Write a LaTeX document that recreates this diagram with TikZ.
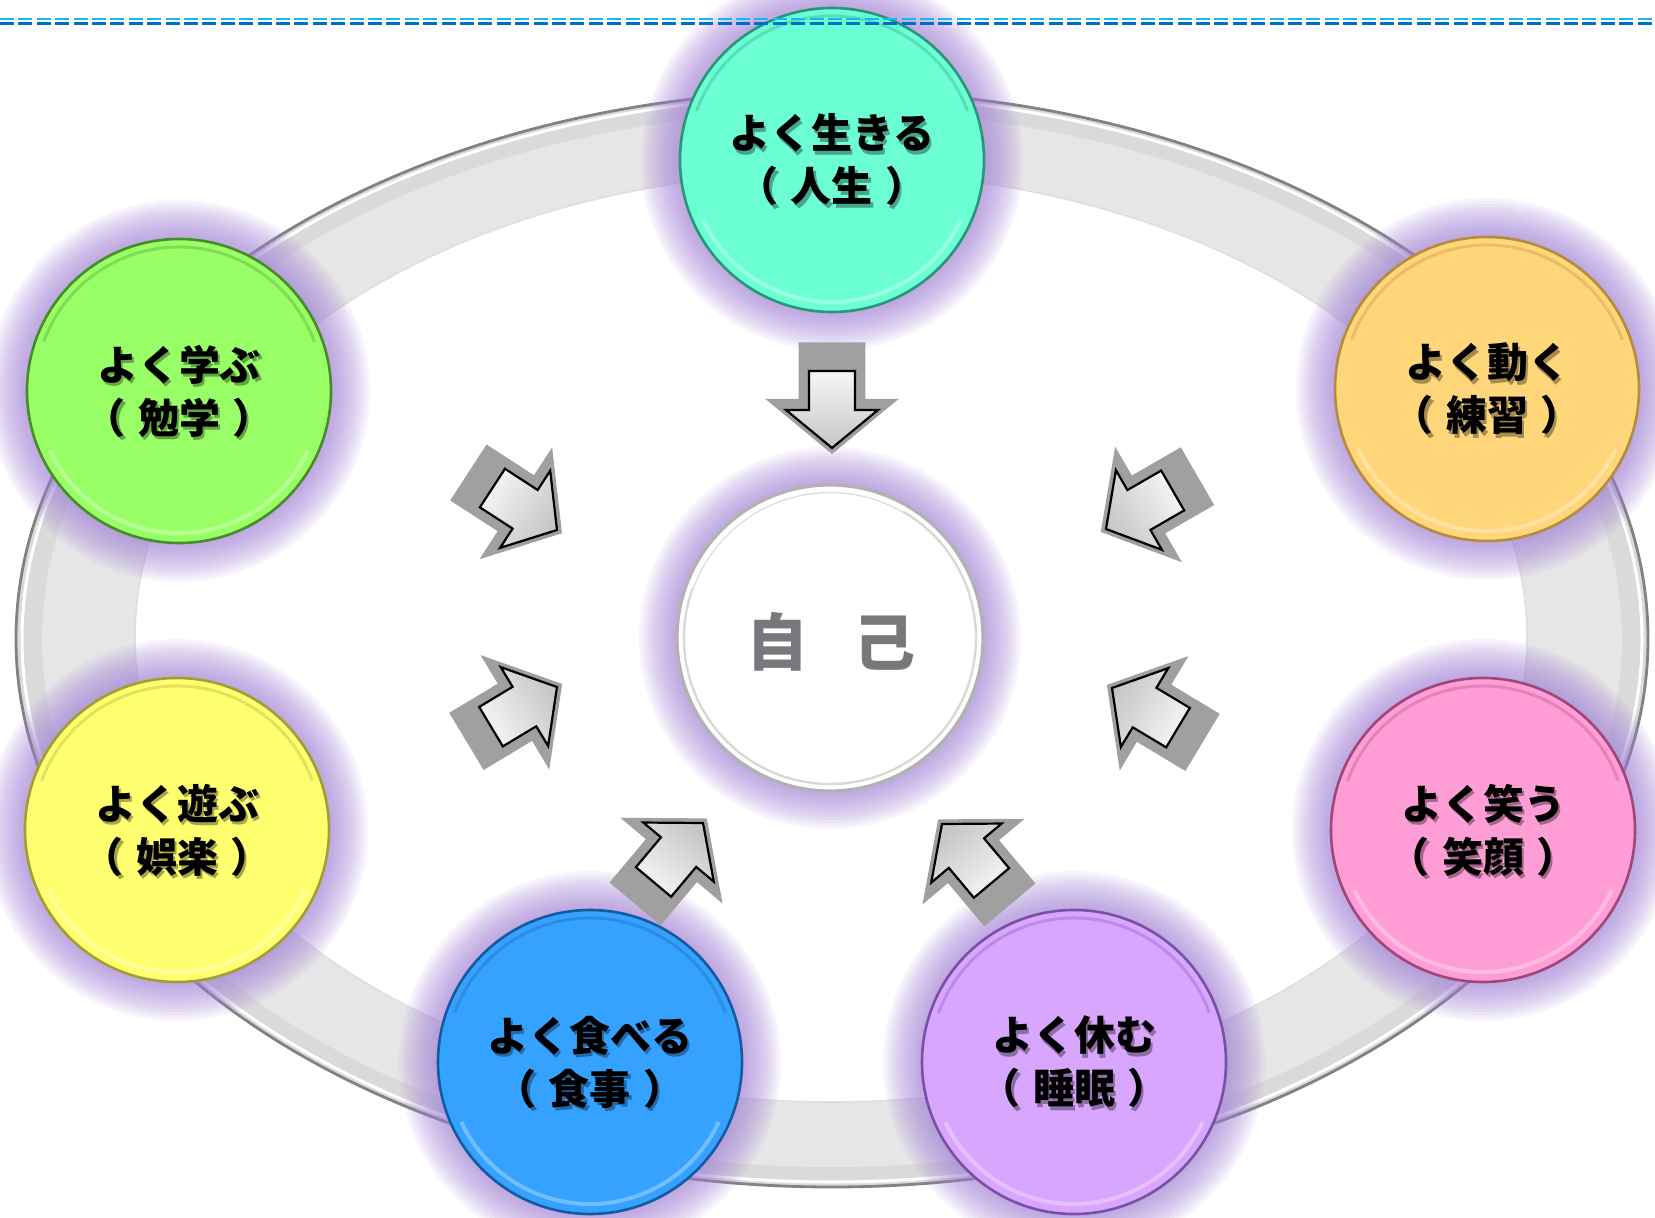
\documentclass[tikz,border=0pt]{standalone}
\usepackage{fontspec}
\newfontfamily\jpfont[Kerning=Off]{Noto Sans CJK JP}
\usetikzlibrary{calc}
\definecolor{glowc}{RGB}{160,125,215}
\definecolor{ringband}{RGB}{218,218,218}
\definecolor{ringlight}{RGB}{230,230,230}
\definecolor{ringedge}{RGB}{130,130,130}
\definecolor{arrshadow}{RGB}{160,160,160}
\definecolor{cteal}{RGB}{108,255,212}\definecolor{bteal}{RGB}{40,150,120}
\definecolor{cgreen}{RGB}{153,255,102}\definecolor{bgreen}{RGB}{70,140,40}
\definecolor{corange}{RGB}{255,214,122}\definecolor{borange}{RGB}{180,140,60}
\definecolor{cyellow}{RGB}{255,255,112}\definecolor{byellow}{RGB}{160,160,50}
\definecolor{cpink}{RGB}{255,158,214}\definecolor{bpink}{RGB}{160,70,120}
\definecolor{cblue}{RGB}{54,162,255}\definecolor{bblue}{RGB}{20,90,160}
\definecolor{cpurple}{RGB}{217,166,255}\definecolor{bpurple}{RGB}{120,80,165}
\definecolor{dashcyan}{RGB}{20,185,240}
\definecolor{dashblue}{RGB}{0,110,200}
\definecolor{selfgray}{RGB}{120,120,124}
\tikzset{
  bubblebase/.style={circle, minimum size=152pt, inner sep=0pt, line width=1.3pt},
  bubbletext/.style={align=center, inner sep=0pt, font=\jpfont\bfseries\fontsize{20.5pt}{26.5pt}\selectfont, text=black},
  textshade/.style={bubbletext, text opacity=0.35},
  arrowbody/.style={draw=black, line width=1.1pt, line join=miter},
  arrowback/.style={fill=arrshadow},
  glowring/.style={glowc, opacity=0.075},
}
\newcommand\mkglow[3]{% x y radius
  \foreach \k in {1,...,13}{\fill[glowring] (#1,#2) circle ({#3+3*\k});}
}
\newcommand\mkbubble[7]{% name x y fill border line1 line2-inner
  \node[bubblebase, fill=#4, draw=#5] (#1) at (#2,#3) {};
  \draw[white, opacity=0.3, line width=2pt] (#2,#3) ++(25:142) arc[start angle=25, end angle=155, radius=142];
  \draw[#5, opacity=0.3, line width=1.5pt] (#2,#3) ++(200:144) arc[start angle=200, end angle=340, radius=144];
  \node[textshade] (#1s) at ([shift={(1.2pt,-1.6pt)}]#1.center) {#6\\（\hspace{0.3em}#7\hspace{0.3em}）};
  \node[bubbletext] (#1t) at (#1.center) {#6\\（\hspace{0.3em}#7\hspace{0.3em}）};
}
\newcommand\mkarrow[4]{% name x y angle
  \begin{scope}[shift={(#2,#3)}, rotate=#4]
    \fill[arrowback, shift={(6,0)}, scale=1.45] (0,0) -- (-38,46) -- (-38,23) -- (-77,23) -- (-77,-23) -- (-38,-23) -- (-38,-46) -- cycle;
    \path[arrowbody, top color=white!93!gray, bottom color=gray!45!white, shading angle={#4+90}] (0,0) coordinate (#1) -- (-38,46) -- (-38,23) -- (-77,23) -- (-77,-23) -- (-38,-23) -- (-38,-46) -- cycle;
  \end{scope}
}
\begin{document}
\begin{tikzpicture}[x=0.5pt,y=-0.5pt]
\useasboundingbox (0,0) rectangle (1655,1218);
\fill[white] (0,0) rectangle (1655,1218);
% ring
\fill[ringband] (832,639) ellipse [x radius=816, y radius=548];
\fill[ringlight] (832,639) ellipse [x radius=790, y radius=528];
\fill[white] (831,637) ellipse [x radius=696, y radius=465];
\draw[ringedge, line width=1.4pt] (832,639) ellipse [x radius=816, y radius=548];
\draw[white, line width=1.5pt] (832,639) ellipse [x radius=810, y radius=543];
\draw[gray!25, line width=0.8pt] (831,637) ellipse [x radius=696, y radius=465];
% glows
\mkglow{832}{160}{152}
\mkglow{179}{391}{152}
\mkglow{1487}{389}{152}
\mkglow{177}{830}{152}
\mkglow{1483}{830}{152}
\mkglow{590}{1062}{152}
\mkglow{1074}{1062}{152}
\mkglow{830}{638}{152}
% bubbles
\mkbubble{life}{832}{160}{cteal}{bteal}{よく生きる}{人生}
\mkbubble{study}{179}{391}{cgreen}{bgreen}{よく学ぶ}{勉学}
\mkbubble{move}{1487}{389}{corange}{borange}{よく動く}{練習}
\mkbubble{play}{177}{830}{cyellow}{byellow}{よく遊ぶ}{娯楽}
\mkbubble{laugh}{1483}{830}{cpink}{bpink}{よく笑う}{笑顔}
\mkbubble{eat}{590}{1062}{cblue}{bblue}{よく食べる}{食事}
\mkbubble{rest}{1074}{1062}{cpurple}{bpurple}{よく休む}{睡眠}
% self
\node[circle, minimum size=153pt, inner sep=0pt, fill=white, draw=gray!60, line width=1.6pt] (self) at (830,638) {};
\draw[gray!30, line width=1.2pt] (830,638) circle (146);
\draw[white, line width=2pt] (830,638) ++(200:148) arc[start angle=200, end angle=300, radius=148];
\node[font=\jpfont\bfseries\fontsize{31pt}{31pt}\selectfont, text=selfgray, inner sep=0pt] (selft) at (831,642) {自\hspace{23pt}己};
% arrows
\mkarrow{a1}{832}{448}{-90}
\mkarrow{a2}{557}{530}{-33}
\mkarrow{a3}{1106}{529}{-150}
\mkarrow{a4}{557}{687}{31}
\mkarrow{a5}{1112}{688}{149}
\mkarrow{a6}{703}{823}{50}
\mkarrow{a7}{942}{824}{130}
% dashed rule at top
\draw[dashcyan, line width=1.4pt, dash pattern=on 7pt off 2.2pt] (0,19) -- (1655,19);
\draw[dashblue, line width=1.4pt, dash pattern=on 7pt off 2.2pt] (0,23.5) -- (1655,23.5);
\end{tikzpicture}
\end{document}
